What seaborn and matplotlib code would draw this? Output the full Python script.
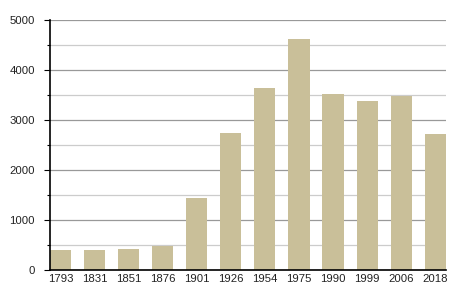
import matplotlib
matplotlib.use("Agg")
import matplotlib.pyplot as plt
import seaborn as sns
import pandas as pd
from matplotlib.ticker import MultipleLocator

years = ["1793", "1831", "1851", "1876", "1901", "1926", "1954", "1975", "1990", "1999", "2006", "2018"]
population = [400, 402, 427, 487, 1447, 2735, 3635, 4620, 3520, 3380, 3473, 2715]

sns.set_theme(style="white")
plt.rcParams['font.family'] = ['Liberation Sans', 'DejaVu Sans']

df = pd.DataFrame({"year": years, "pop": population})

fig = plt.figure(figsize=(4.55, 3.0), dpi=100)
ax = fig.add_axes([0.110, 0.100, 0.8696, 0.8333])

sns.barplot(data=df, x="year", y="pop", color="#c9bf99", width=0.62,
            saturation=1, linewidth=0, edgecolor="none", ax=ax, zorder=3)

ax.set_xlim(-0.31, len(years) - 1 + 0.31)
ax.set_ylim(0, 5000)
ax.yaxis.set_major_locator(MultipleLocator(1000))
ax.yaxis.set_minor_locator(MultipleLocator(500))
ax.grid(axis="y", which="major", color="#999999", linewidth=0.9, zorder=0)
ax.grid(axis="y", which="minor", color="#cccccc", linewidth=0.9, zorder=0)
ax.set_axisbelow(True)

for s in ["top", "right"]:
    ax.spines[s].set_visible(False)
for s in ["left", "bottom"]:
    ax.spines[s].set_color("black")
    ax.spines[s].set_linewidth(1.2)
    ax.spines[s].set_zorder(5)

ax.tick_params(axis="y", which="major", left=True, length=4, width=0.8, color="black",
               labelsize=8.2, pad=7, labelcolor="#222222")
ax.tick_params(axis="y", which="minor", left=True, length=2, width=0.8, color="black")
ax.tick_params(axis="x", which="both", bottom=False, length=0, labelsize=8.2, pad=3,
               labelcolor="#222222")

ax.set_xlabel("")
ax.set_ylabel("")

fig.savefig("out.png", dpi=100)
